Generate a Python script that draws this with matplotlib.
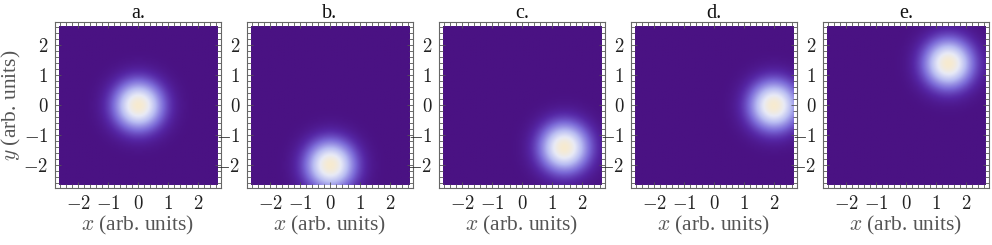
"""
Gaussian spot moving along a circle: five density panels
"""
import numpy as np
import matplotlib
matplotlib.use("Agg")
import matplotlib.pyplot as plt
from matplotlib.colors import LinearSegmentedColormap
from matplotlib.ticker import MultipleLocator

plt.rcParams['font.family'] = ['Liberation Serif', 'DejaVu Serif']
plt.rcParams['mathtext.fontset'] = 'cm'

panel_titles = ['a.', 'b.', 'c.', 'd.', 'e.']
centre_x = [0.0, 0.0, 1.41, 2.0, 1.41]
centre_y = [0.0, -2.0, -1.41, 0.0, 1.41]
spot_sigma = 0.55
tick_values = [-2, -1, 0, 1, 2]

cmap = LinearSegmentedColormap.from_list(
    'spot', [(0.0, '#4a1283'), (0.1, '#5526a4'), (0.3, '#7a68d6'),
             (0.58, '#b8bcf2'), (0.82, '#e8eaf6'), (1.0, '#f7ebd0')])

grid = np.linspace(-2.65, 2.65, 120)
gx, gy = np.meshgrid(grid, grid)

fig = plt.figure(figsize=(9.92, 2.45), dpi=100)
lefts = [55, 247, 439, 631, 823]
for i, left in enumerate(lefts):
    ax = fig.add_axes([left / 992, 1 - 188 / 245, 166 / 992, 165.5 / 245])
    r2 = (gx - centre_x[i]) ** 2 + (gy - centre_y[i]) ** 2
    field = np.exp(-r2 / (2 * spot_sigma ** 2))
    ax.imshow(field, extent=[-2.65, 2.65, -2.65, 2.65], origin='lower',
              cmap=cmap, vmin=0, vmax=1, interpolation='bilinear')
    ax.set_xlim(-2.76, 2.76)
    ax.set_ylim(-2.76, 2.76)
    ax.set_xticks(tick_values)
    ax.set_yticks(tick_values)
    ax.set_xticklabels(['$-2$', '$-1$', '$0$', '$1$', '$2$'])
    ax.set_yticklabels(['$-2$', '$-1$', '$0$', '$1$', '$2$'])
    ax.xaxis.set_minor_locator(MultipleLocator(0.2))
    ax.yaxis.set_minor_locator(MultipleLocator(0.2))
    ax.tick_params(which='both', direction='in', top=True, right=True,
                   color='#555555', width=0.6, labelsize=13.5,
                   labelcolor='#222222', pad=5)
    ax.tick_params(which='major', length=4.5)
    ax.tick_params(which='minor', length=2.6)
    for sp in ax.spines.values():
        sp.set_color('#666666')
        sp.set_linewidth(0.8)
    ax.set_title(panel_titles[i], fontsize=14.5, color='#111111', pad=2)
    ax.set_xlabel('$x$ (arb. units)', fontsize=15.5, color='#555555',
                  labelpad=1)
    if i == 0:
        ax.set_ylabel('$y$ (arb. units)', fontsize=15.5, color='#555555',
                      labelpad=0)

fig.savefig('out.png', dpi=100)
